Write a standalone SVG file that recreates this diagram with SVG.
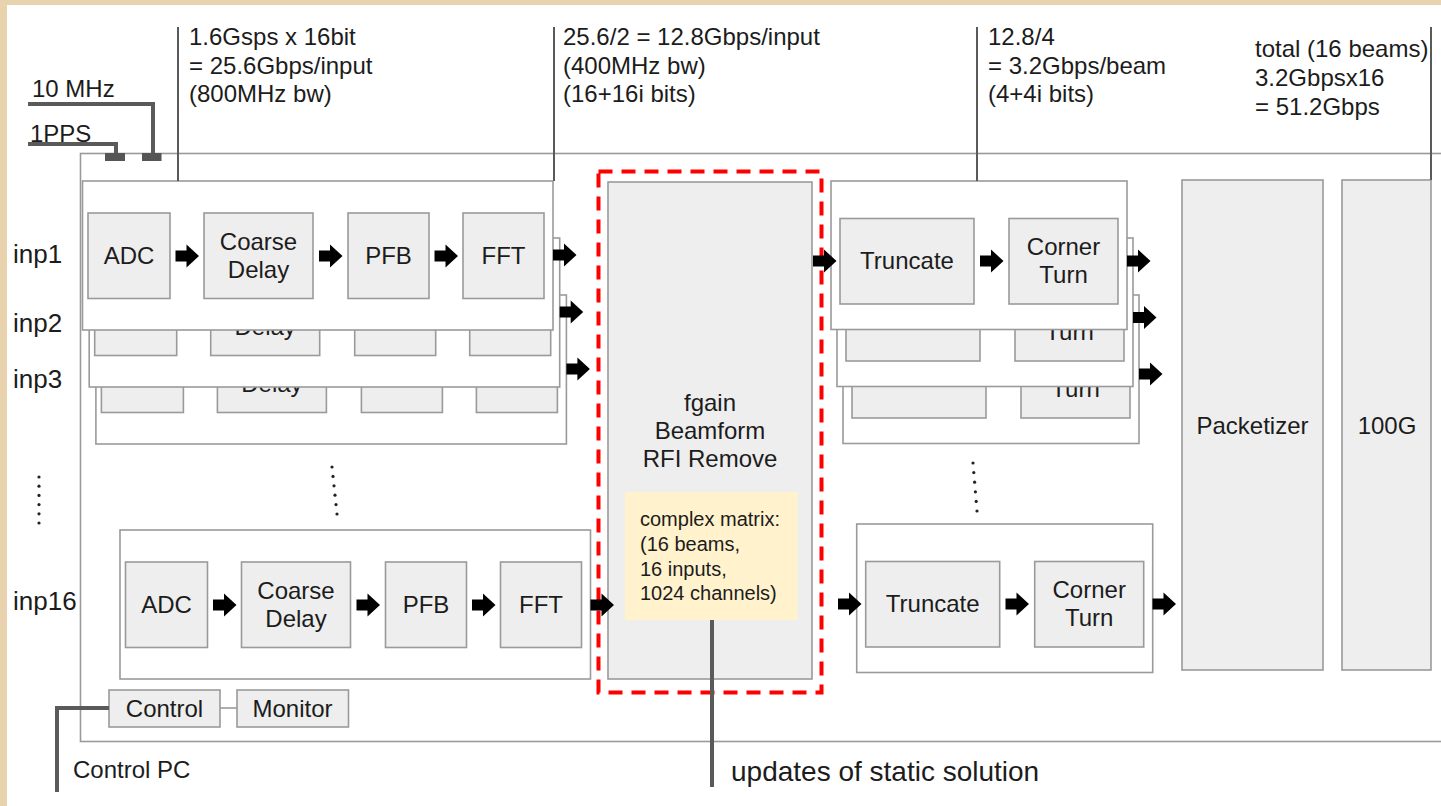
<svg xmlns="http://www.w3.org/2000/svg" xmlns:xlink="http://www.w3.org/1999/xlink" width="1441" height="806" viewBox="0 0 1441 806">
  <style>
    .box { fill: #eeeeee; stroke: #9a9a9a; stroke-width: 1.6; }
    .cont { fill: #ffffff; stroke: #9a9a9a; stroke-width: 1.6; }
    .t { font-family: "Liberation Sans", Arial, sans-serif; font-size: 24px; fill: #1c1c1c; }
    .c { text-anchor: middle; }
    .lbl { font-size: 26px; }
    .note { font-size: 20px; }
    .big { font-size: 28px; }
    .wire { stroke: #5a5a5a; stroke-width: 4; fill: none; }
    .lead { stroke: #5a5a5a; stroke-width: 2; fill: none; }
    .thin { stroke: #9a9a9a; stroke-width: 1.6; fill: none; }
    .dot { fill: #222222; }
    .arrow { fill: #000000; }
  </style>
  <defs>
    <path id="arr" class="arrow" d="M0,-5.5H11V-11.5L23.5,0L11,11.5V5.5H0Z"/>
    <clipPath id="clip-t2"><rect x="800" y="290" width="31" height="50"/></clipPath>
    <clipPath id="clip-t3"><rect x="800" y="350" width="37" height="50"/></clipPath>
    <!-- one input chain: ADC, coarse delay, PFB, FFT inside a white card -->
    <g id="chainL">
      <rect class="cont" x="82.5" y="181" width="470.5" height="149"/>
      <rect class="box" x="88" y="213" width="82" height="85.5"/>
      <rect class="box" x="204" y="213" width="109" height="85.5"/>
      <rect class="box" x="348" y="213" width="81" height="85.5"/>
      <rect class="box" x="463" y="213" width="81" height="85.5"/>
      <text class="t c" x="129" y="264">ADC</text>
      <text class="t c" x="258.5" y="250">Coarse</text>
      <text class="t c" x="258.5" y="278">Delay</text>
      <text class="t c" x="388.5" y="264">PFB</text>
      <text class="t c" x="503.5" y="264">FFT</text>
    </g>
    <!-- one beam chain: truncate and corner turn inside a white card -->
    <g id="chainR">
      <rect class="cont" x="831" y="181" width="296" height="148.5"/>
      <rect class="box" x="840" y="218.5" width="134" height="85.5"/>
      <rect class="box" x="1009" y="218.5" width="109" height="85.5"/>
      <text class="t c" x="907" y="269">Truncate</text>
      <text class="t c" x="1063.5" y="255">Corner</text>
      <text class="t c" x="1063.5" y="283">Turn</text>
    </g>
  </defs>

  <!-- page frame -->
  <rect x="0" y="0" width="1441" height="806" fill="#ffffff"/>
  <rect x="0" y="0" width="1441" height="5" fill="#e9d2ae"/>
  <rect x="0" y="0" width="7" height="806" fill="#e9d2ae"/>

  <!-- board outline -->
  <g id="board">
    <rect class="cont" x="80.5" y="153.5" width="1380" height="588"/>
  </g>

  <!-- input chains, back to front -->
  <g id="inp3-chain"><use xlink:href="#chainL" transform="translate(13.4,114)"/></g>
  <g id="inp2-chain"><use xlink:href="#chainL" transform="translate(6.7,57)"/></g>
  <g id="inp1-chain"><use xlink:href="#chainL"/></g>
  <g id="inp16-chain"><use xlink:href="#chainL" transform="translate(37.5,349)"/></g>

  <!-- beamformer block -->
  <g id="beamformer">
    <rect class="box" x="608" y="182" width="204" height="497"/>
    <text class="t c" x="710" y="411">fgain</text>
    <text class="t c" x="710" y="439">Beamform</text>
    <text class="t c" x="710" y="467">RFI Remove</text>
  </g>
  <g id="weights">
    <rect x="625" y="492" width="172.5" height="128" fill="#fff2cc"/>
    <text class="t note" x="640" y="526">complex matrix:</text>
    <text class="t note" x="640" y="551">(16 beams,</text>
    <text class="t note" x="640" y="576">16 inputs,</text>
    <text class="t note" x="640" y="600">1024 channels)</text>
  </g>
  <g id="fpga-region">
    <rect x="598.5" y="171.5" width="223" height="521" fill="none" stroke="#ff0000" stroke-width="4" stroke-dasharray="14 9"/>
  </g>

  <!-- beam chains, back to front -->
  <g id="beam3-chain"><use xlink:href="#chainR" transform="translate(12,114)"/></g>
  <g id="beam2-chain"><use xlink:href="#chainR" transform="translate(6,57)"/></g>
  <g id="beam1-chain"><use xlink:href="#chainR"/></g>
  <g id="beam16-chain"><use xlink:href="#chainR" transform="translate(25.7,343)"/></g>

  <!-- output stages -->
  <g id="packetizer">
    <rect class="box" x="1182" y="180" width="141" height="490"/>
    <text class="t c" x="1252.5" y="434">Packetizer</text>
  </g>
  <g id="eth100g">
    <rect class="box" x="1342" y="180" width="89" height="490"/>
    <text class="t c" x="1387" y="434">100G</text>
  </g>

  <!-- control -->
  <g id="control">
    <rect class="box" x="109" y="690" width="111" height="37"/>
    <text class="t c" x="164.5" y="717">Control</text>
  </g>
  <g id="monitor">
    <rect class="box" x="237" y="690" width="111.5" height="37"/>
    <text class="t c" x="292.5" y="717">Monitor</text>
  </g>

  <!-- labels -->
  <g id="labels">
    <text class="t lbl" x="13" y="263">inp1</text>
    <text class="t lbl" x="13" y="332">inp2</text>
    <text class="t lbl" x="13" y="388">inp3</text>
    <text class="t lbl" x="13" y="610">inp16</text>
    <text class="t" x="32" y="97">10 MHz</text>
    <text class="t" x="30" y="142">1PPS</text>
    <text class="t" x="73" y="778">Control PC</text>
    <text class="t big" x="731" y="781">updates of static solution</text>

    <text class="t" x="189" y="45">1.6Gsps x 16bit</text>
    <text class="t" x="189" y="74">= 25.6Gbps/input</text>
    <text class="t" x="189" y="102">(800MHz bw)</text>

    <text class="t" x="563" y="45">25.6/2 = 12.8Gbps/input</text>
    <text class="t" x="563" y="74">(400MHz bw)</text>
    <text class="t" x="563" y="102">(16+16i bits)</text>

    <text class="t" x="988" y="45">12.8/4</text>
    <text class="t" x="988" y="74">= 3.2Gbps/beam</text>
    <text class="t" x="988" y="102">(4+4i bits)</text>

    <text class="t" x="1255" y="57">total (16 beams)</text>
    <text class="t" x="1255" y="86">3.2Gbpsx16</text>
    <text class="t" x="1255" y="115">= 51.2Gbps</text>

    <!-- ellipsis marks for the omitted channels -->
    <g class="dot">
      <circle cx="39" cy="477" r="1.6"/><circle cx="39" cy="486.2" r="1.6"/><circle cx="39" cy="495.4" r="1.6"/>
      <circle cx="39" cy="504.6" r="1.6"/><circle cx="39" cy="513.8" r="1.6"/><circle cx="39" cy="523" r="1.6"/>
      <circle cx="332" cy="467" r="1.6"/><circle cx="333" cy="476.4" r="1.6"/><circle cx="334" cy="485.8" r="1.6"/>
      <circle cx="335" cy="495.2" r="1.6"/><circle cx="336" cy="504.6" r="1.6"/><circle cx="337" cy="514" r="1.6"/>
      <circle cx="973" cy="463" r="1.6"/><circle cx="973.8" cy="472.6" r="1.6"/><circle cx="974.6" cy="482.2" r="1.6"/>
      <circle cx="975.4" cy="491.8" r="1.6"/><circle cx="976.2" cy="501.4" r="1.6"/><circle cx="977" cy="511" r="1.6"/>
    </g>
  </g>

  <!-- connectors -->
  <g id="connectors">
    <!-- rate annotation leaders -->
    <path class="lead" d="M178,27V181 M554,27V181 M977,27V181 M1431,27V180"/>
    <!-- clock inputs -->
    <path class="wire" d="M28,104H153V153 M28,144H116V153"/>
    <rect x="105" y="153" width="20" height="8" fill="#555555"/>
    <rect x="142" y="153" width="19.5" height="8" fill="#555555"/>
    <!-- control link -->
    <path class="wire" d="M57,792V708H109"/>
    <path class="thin" d="M220,708H237"/>
    <!-- weight updates -->
    <path class="wire" d="M712,620V787"/>

    <!-- inp1 chain -->
    <use xlink:href="#arr" x="175.5" y="256"/>
    <use xlink:href="#arr" x="319" y="256"/>
    <use xlink:href="#arr" x="434.5" y="256"/>
    <use xlink:href="#arr" x="553" y="255"/>
    <use xlink:href="#arr" x="559.7" y="312"/>
    <use xlink:href="#arr" x="566.4" y="369"/>
    <!-- inp16 chain -->
    <use xlink:href="#arr" x="213" y="605"/>
    <use xlink:href="#arr" x="356.5" y="605"/>
    <use xlink:href="#arr" x="472" y="605"/>
    <use xlink:href="#arr" x="590.5" y="605"/>
    <!-- beam chains -->
    <use xlink:href="#arr" x="813" y="261"/>
    <use xlink:href="#arr" x="980" y="261"/>
    <use xlink:href="#arr" x="1127" y="261"/>
    <use xlink:href="#arr" x="819" y="317.5" clip-path="url(#clip-t2)"/>
    <use xlink:href="#arr" x="1133" y="317.5"/>
    <use xlink:href="#arr" x="825" y="374" clip-path="url(#clip-t3)"/>
    <use xlink:href="#arr" x="1139" y="374"/>
    <use xlink:href="#arr" x="838" y="604"/>
    <use xlink:href="#arr" x="1005.5" y="604"/>
    <use xlink:href="#arr" x="1152.5" y="604"/>
  </g>
</svg>
